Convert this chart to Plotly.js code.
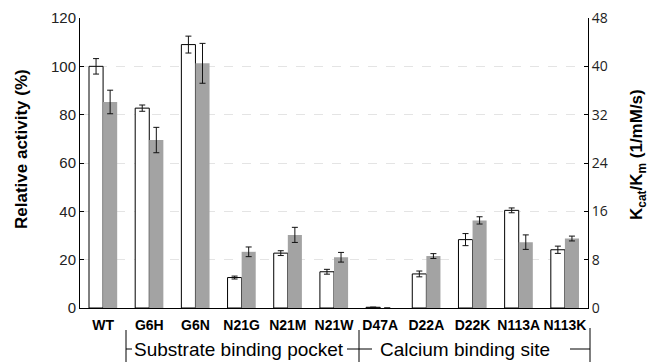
<!DOCTYPE html>
<html><head><meta charset="utf-8">
<script src="https://cdn.plot.ly/plotly-3.0.1.min.js"></script>
<style>html,body{margin:0;padding:0;background:#fff}#c{width:650px;height:362px}</style>
</head><body><div id="c"></div>
<script>
const categories = ["WT","G6H","G6N","N21G","N21M","N21W","D47A","D22A","D22K","N113A","N113K"];
const relActivity = [100, 82.7, 109, 12.6, 22.7, 15.0, 0.3, 14.1, 28.3, 40.4, 24.1];
const relActivityErr = [3.2, 1.3, 3.5, 0.6, 1.0, 1.0, 0, 1.2, 2.5, 1.0, 1.5];
const kcatKm = [34.1, 27.8, 40.5, 9.3, 12.1, 8.4, 0, 8.6, 14.5, 10.9, 11.5];
const kcatKmErr = [1.95, 2.1, 3.3, 0.8, 1.25, 0.8, 0, 0.4, 0.6, 1.2, 0.4];
const leftTicks = [0,20,40,60,80,100,120];
const rightTicks = [0,8,16,24,32,40,48];

const traces = [
  {type:'bar', x:categories, y:relActivity, yaxis:'y', offsetgroup:'a',
   marker:{color:'#ffffff', line:{color:'#000000', width:1}},
   error_y:{type:'data', array:relActivityErr, visible:true, color:'#111', thickness:1, width:3}},
  {type:'bar', x:categories, y:kcatKm, yaxis:'y2', offsetgroup:'b',
   marker:{color:'#a3a3a3', line:{width:0}},
   error_y:{type:'data', array:kcatKmErr, visible:true, color:'#111', thickness:1, width:3}}
];

function px(x){return (x-80)/508;}
function py(y){return (308-y)/290;}
const lineStyle = {color:'#000', width:1};
const shapes = [
  {type:'line', xref:'paper', yref:'paper', x0:px(126), x1:px(126), y0:py(330), y1:py(362), line:lineStyle},
  {type:'line', xref:'paper', yref:'paper', x0:px(126), x1:px(132), y0:py(349), y1:py(349), line:lineStyle},
  {type:'line', xref:'paper', yref:'paper', x0:px(359), x1:px(359), y0:py(330), y1:py(362), line:lineStyle},
  {type:'line', xref:'paper', yref:'paper', x0:px(347), x1:px(372), y0:py(349), y1:py(349), line:lineStyle},
  {type:'line', xref:'paper', yref:'paper', x0:px(590), x1:px(590), y0:py(328), y1:py(362), line:lineStyle},
  {type:'line', xref:'paper', yref:'paper', x0:px(570), x1:px(590), y0:py(349), y1:py(349), line:lineStyle}
];

const annotations = [
  {xref:'paper', yref:'paper', x:px(239), y:py(349), text:'Substrate binding pocket', showarrow:false,
   font:{family:'Arial', size:19, color:'#000'}, xanchor:'center', yanchor:'middle'},
  {xref:'paper', yref:'paper', x:px(465), y:py(349), text:'Calcium binding site', showarrow:false,
   font:{family:'Arial', size:19, color:'#000'}, xanchor:'center', yanchor:'middle'},
  {xref:'paper', yref:'paper', x:px(21), y:py(149), text:'<b>Relative activity (%)</b>', textangle:-90, showarrow:false,
   font:{family:'Arial', size:17, color:'#000'}, xanchor:'center', yanchor:'middle'},
  {xref:'paper', yref:'paper', x:px(638), y:py(155), text:'<b>K<sub>cat</sub>/K<sub>m</sub> (1/mM/s)</b>', textangle:-90, showarrow:false,
   font:{family:'Arial', size:17, color:'#000'}, xanchor:'center', yanchor:'middle'}
];

const layout = {
  width:650, height:362,
  margin:{l:80, r:62, t:18, b:54},
  paper_bgcolor:'#fff', plot_bgcolor:'#fff',
  showlegend:false,
  barmode:'group', bargap:0.39, bargroupgap:0,
  xaxis:{type:'category', showline:true, linecolor:'#000', linewidth:1, ticks:'', showgrid:false,
    ticklabelstandoff:4,
    tickfont:{family:'Arial', size:14, color:'#000', weight:'bold'}},
  yaxis:{range:[0,120], tickvals:leftTicks, showline:true, linecolor:'#000', linewidth:1,
    ticks:'inside', ticklen:4, tickcolor:'#000', showgrid:true, gridcolor:'#e4e4e4', griddash:'dash',
    zeroline:false, tickfont:{family:'Arial', size:15, color:'#222'}},
  yaxis2:{range:[0,48], tickvals:rightTicks, overlaying:'y', side:'right', showline:true, linecolor:'#000', linewidth:1,
    ticks:'inside', ticklen:4, tickcolor:'#000', showgrid:false, zeroline:false,
    tickfont:{family:'Open Sans', size:14, color:'#222'}},
  shapes:shapes, annotations:annotations
};
Plotly.newPlot('c', traces, layout, {displayModeBar:false, staticPlot:true});
</script></body></html>
